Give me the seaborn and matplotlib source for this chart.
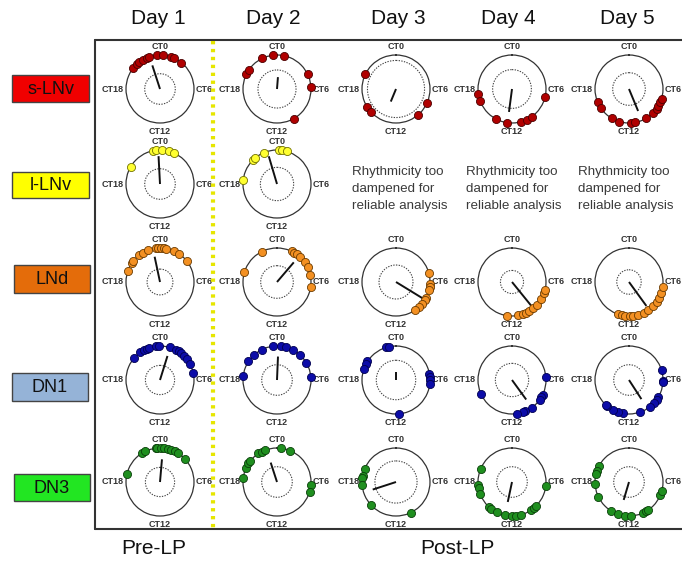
import numpy as np
import pandas as pd
import matplotlib
matplotlib.use("Agg")
import matplotlib.pyplot as plt
from matplotlib.patches import Rectangle
from matplotlib.lines import Line2D
import seaborn as sns

sns.set_style("white")
plt.rcParams['font.family'] = ['Liberation Sans', 'DejaVu Sans']

# ---------------- data (phases in circadian time, hours) ----------------
days = ["Day 1", "Day 2", "Day 3", "Day 4", "Day 5"]
cell_types = ["s-LNv", "l-LNv", "LNd", "DN1", "DN3"]
ct_labels = ["CT0", "CT6", "CT12", "CT18"]
ct_label_hours = [0, 6, 12, 18]
phase_labels = ["Pre-LP", "Post-LP"]
dampened_lines = ["Rhythmicity too", "dampened for", "reliable analysis"]

slnv_phases = [
    [20.5, 21.1, 21.5, 22.0, 22.5, 22.8, 23.7, 0.33, 1.3, 1.6, 2.6],
    [19.7, 20.3, 22.3, 23.6, 0.8, 4.3, 5.8, 10.05],
    [19.7, 15.9, 15.1, 9.3, 7.6],
    [17.4, 16.6, 13.9, 12.6, 11.0, 10.3, 9.6, 6.9],
    [16.5, 15.7, 14.0, 13.1, 11.8, 11.3, 10.0, 9.0, 8.4, 8.0, 7.5, 7.1],
]
slnv_vec_phase = [22.8, 0.3, 13.5, 12.5, 10.5]
slnv_vec_len = [0.73, 0.35, 0.40, 0.68, 0.70]
slnv_inner = [0.45, 0.56, 0.84, 0.57, 0.48]

llnv_phases = [
    [20.0, 23.2, 23.5, 0.2, 1.0, 1.6],
    [18.4, 21.0, 21.3, 22.5, 0.27, 0.58, 1.1],
    None, None, None,
]
llnv_vec_phase = [23.8, 22.9, None, None, None]
llnv_vec_len = [0.82, 0.85, None, None, None]
llnv_inner = [0.45, 0.49, None, None, None]

lnd_phases = [
    [19.2, 20.3, 20.5, 21.5, 22.0, 22.6, 23.5, 23.8, 0.1, 0.4, 0.7, 1.6, 2.3, 3.5],
    [19.1, 22.2, 1.7, 2.0, 2.4, 2.9, 3.6, 4.3, 5.2, 6.6],
    [5.0, 6.2, 6.6, 6.9, 7.9, 8.1, 8.7, 9.2, 9.7],
    [12.6, 11.3, 10.8, 10.4, 10.0, 9.4, 8.8, 8.0, 7.3, 6.9],
    [13.2, 12.8, 12.4, 11.9, 11.6, 11.0, 10.3, 9.7, 9.0, 8.4, 7.9, 7.2, 6.6],
]
lnd_vec_phase = [23.2, 2.7, 8.1, 9.4, 9.6]
lnd_vec_len = [0.76, 0.76, 0.98, 0.95, 0.87]
lnd_inner = [0.38, 0.48, 0.50, 0.34, 0.36]

dn1_phases = [
    [20.7, 21.6, 22.1, 22.5, 22.8, 23.5, 23.9, 1.1, 1.9, 2.2, 2.5, 3.0, 3.5, 4.1, 5.2],
    [18.5, 20.2, 21.2, 22.2, 23.6, 0.4, 1.0, 1.9, 2.9, 4.0, 5.7],
    [22.9, 23.2, 20.2, 19.9, 19.2, 5.3, 5.7, 6.0, 6.4, 11.7],
    [16.4, 5.7, 7.7, 8.0, 8.4, 9.6, 10.5, 10.8, 11.4],
    [4.9, 6.1, 6.2, 8.0, 8.4, 8.8, 9.5, 10.7, 12.7, 13.3, 13.9, 14.7, 14.9],
]
dn1_vec_phase = [1.15, 0.16, 0.0, 9.6, 9.8]
dn1_vec_len = [0.74, 0.69, 0.25, 0.71, 0.67]
dn1_inner = [0.43, 0.45, 0.58, 0.49, 0.45]

dn3_phases = [
    [18.9, 21.9, 22.3, 23.5, 23.7, 0.1, 0.5, 0.9, 1.3, 1.7, 2.1, 3.2],
    [18.4, 19.6, 20.2, 20.5, 21.8, 22.2, 22.6, 0.5, 1.5, 6.3, 7.1],
    [19.5, 18.7, 18.4, 17.7, 15.1, 10.3],
    [19.5, 17.7, 17.3, 16.6, 14.9, 14.5, 13.8, 12.8, 12.0, 11.5, 11.0, 9.7, 9.3, 9.0, 6.5],
    [19.9, 19.3, 18.9, 17.8, 16.3, 14.1, 13.2, 12.5, 11.8, 10.4, 10.0, 9.7, 7.5, 7.0],
]
dn3_vec_phase = [0.33, 22.8, 16.8, 12.8, 13.1]
dn3_vec_len = [0.67, 0.60, 0.72, 0.60, 0.55]
dn3_inner = [0.43, 0.45, 0.62, 0.45, 0.45]

# ---------------- styles ----------------
box_colors = ["#f00000", "#ffff00", "#e46c0a", "#95b3d7", "#22e622"]
dot_fill = ["#b00000", "#ffff30", "#f39022", "#0c0ca8", "#1f8f1f"]
dot_edge = ["#4a0000", "#707000", "#6a3a00", "#000050", "#0a3f0a"]

W, H = 682, 561
col_x = [160, 277, 396, 512, 629]
row_y = [89, 184, 282, 380, 482]
text_x = [352, 466, 578]
text_line_y = [172, 189, 206]
R = 34

fig = plt.figure(figsize=(W / 100, H / 100), dpi=100)
fig.patch.set_facecolor("white")

def fx(x):
    return x / W

def fy(y):
    return 1 - y / H

def to_theta(hours):
    return np.asarray(hours, dtype=float) / 24.0 * 2 * np.pi

phases_all = [slnv_phases, llnv_phases, lnd_phases, dn1_phases, dn3_phases]
vec_phase_all = [slnv_vec_phase, llnv_vec_phase, lnd_vec_phase, dn1_vec_phase, dn3_vec_phase]
vec_len_all = [slnv_vec_len, llnv_vec_len, lnd_vec_len, dn1_vec_len, dn3_vec_len]
inner_all = [slnv_inner, llnv_inner, lnd_inner, dn1_inner, dn3_inner]

circle_theta = np.linspace(0, 2 * np.pi, 200)

for ri, ctype in enumerate(cell_types):
    for ci, day in enumerate(days):
        ph = phases_all[ri][ci]
        if ph is None:
            for line, ly in zip(dampened_lines, text_line_y):
                fig.text(fx(text_x[ci - 2]), fy(ly), line, ha="left",
                         va="center", fontsize=9.6, color="#3a3a3a")
            continue
        cx, cy = col_x[ci], row_y[ri]
        ax = fig.add_axes([fx(cx - R), fy(cy + R), 2 * R / W, 2 * R / H],
                          projection="polar")
        ax.set_theta_zero_location("N")
        ax.set_theta_direction(-1)
        df = pd.DataFrame({"theta": to_theta(ph), "r": np.ones(len(ph))})
        # inner dashed significance circle
        ax.plot(circle_theta, np.full_like(circle_theta, inner_all[ri][ci]),
                ls=(0, (1.2, 1.2)), color="#444444", lw=0.8)
        # mean vector
        vt = to_theta(vec_phase_all[ri][ci])
        ax.plot([vt, vt], [0, vec_len_all[ri][ci]], color="#111111", lw=1.4,
                solid_capstyle="butt", zorder=4)
        sns.scatterplot(data=df, x="theta", y="r", ax=ax, s=34,
                        color=dot_fill[ri], edgecolor=dot_edge[ri],
                        linewidth=0.6, clip_on=False, zorder=5, legend=False)
        ax.set_ylim(0, 1)
        ax.set_xlabel("")
        ax.set_ylabel("")
        ax.set_xticks([])
        ax.set_yticks([])
        ax.grid(False)
        ax.spines["polar"].set_color("#333333")
        ax.spines["polar"].set_linewidth(0.9)
        ax.set_facecolor("none")
        for lab, hr in zip(ct_labels, ct_label_hours):
            t = to_theta(hr)
            if hr == 0:
                ax.text(t, 1.24, lab, ha="center", va="center", fontsize=6.5,
                        fontweight="bold", color="#333333")
            elif hr == 12:
                ax.text(t, 1.25, lab, ha="center", va="center", fontsize=6.5,
                        fontweight="bold", color="#333333")
            elif hr == 6:
                ax.text(t, 1.06, lab, ha="left", va="center", fontsize=6.5,
                        fontweight="bold", color="#333333")
            else:
                ax.text(t, 1.06, lab, ha="right", va="center", fontsize=6.5,
                        fontweight="bold", color="#333333")

# headers
header_x = [158, 273, 398, 508, 627]
for d, x in zip(days, header_x):
    fig.text(fx(x), fy(19), d, ha="center", va="center", fontsize=15, color="#111111")

# row label boxes
box_y = [(75, 102), (172, 198), (265, 293), (373, 401), (474, 501)]
box_x = [(12, 89), (12, 89), (14, 90), (12, 88), (14, 90)]
for lab, col, (y0, y1), (x0, x1) in zip(cell_types, box_colors, box_y, box_x):
    fig.add_artist(Rectangle((fx(x0), fy(y1)), (x1 - x0) / W, (y1 - y0) / H,
                             transform=fig.transFigure, facecolor=col,
                             edgecolor="#444444", lw=1.0))
    fig.text(fx((x0 + x1) / 2), fy((y0 + y1) / 2 + 1), lab, ha="center",
             va="center", fontsize=13, color="#111111")

# frame
frame_kw = dict(transform=fig.transFigure, color="#333333", lw=1.5)
fig.add_artist(Line2D([fx(95), fx(682)], [fy(40), fy(40)], **frame_kw))
fig.add_artist(Line2D([fx(95), fx(95)], [fy(40), fy(529)], **frame_kw))
fig.add_artist(Line2D([fx(95), fx(682)], [fy(529), fy(529)], **frame_kw))

# yellow dotted separator
fig.add_artist(Line2D([fx(213), fx(213)], [fy(41), fy(528)],
                      transform=fig.transFigure, color="#e6e600", lw=3,
                      dashes=(0.8, 1.1), solid_capstyle="butt"))

# bottom phase labels
fig.text(fx(154), fy(548), phase_labels[0], ha="center", va="center", fontsize=15, color="#111111")
fig.text(fx(457), fy(548), phase_labels[1], ha="center", va="center", fontsize=15, color="#111111")

fig.savefig("out.png", dpi=100, facecolor="white")
